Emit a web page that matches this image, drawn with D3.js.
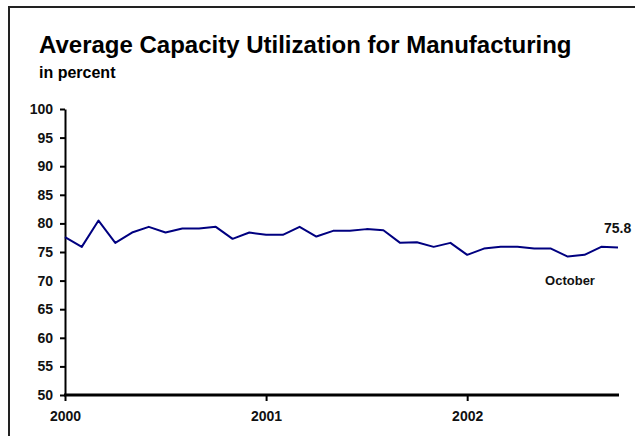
<!DOCTYPE html>
<html>
<head>
<meta charset="utf-8">
<script src="https://cdn.jsdelivr.net/npm/d3@7"></script>
<style>
  html, body { margin: 0; padding: 0; background: #fff; }
  svg { display: block; font-family: "Liberation Sans", Arial, sans-serif; }
</style>
</head>
<body>
<svg id="chart" width="635" height="436"></svg>
<script>
// Monthly capacity utilization, manufacturing, Jan 2000 – Oct 2002 (percent)
const months = d3.range(34); // 0 = Jan 2000
const utilization = [
  77.6, 75.9, 80.5, 76.6, 78.4, 79.4, 78.4, 79.1, 79.1, 79.4, 77.3, 78.4,
  78.0, 78.0, 79.4, 77.7, 78.7, 78.7, 79.0, 78.8, 76.6, 76.7, 75.9, 76.6,
  74.5, 75.6, 75.9, 75.9, 75.6, 75.6, 74.2, 74.5, 75.9, 75.8
];
const yearTicks = [0, 12, 24];
const yearLabels = ["2000", "2001", "2002"];
const yTicks = [50, 55, 60, 65, 70, 75, 80, 85, 90, 95, 100];

const svg = d3.select("#chart");

// Outer frame
svg.append("rect")
  .attr("x", 9).attr("y", 7)
  .attr("width", 640).attr("height", 440)
  .attr("fill", "none")
  .attr("stroke", "#222")
  .attr("stroke-width", 2);

// Titles
svg.append("text")
  .attr("x", 39).attr("y", 53)
  .attr("font-size", 24).attr("font-weight", "bold")
  .attr("fill", "#000")
  .text("Average Capacity Utilization for Manufacturing");
svg.append("text")
  .attr("x", 39).attr("y", 78)
  .attr("font-size", 16).attr("font-weight", "bold")
  .attr("fill", "#000")
  .text("in percent");

const x = d3.scaleLinear().domain([0, 33]).range([65, 618]);
const y = d3.scaleLinear().domain([50, 100]).range([395, 109]);

// Y axis
const yAxis = svg.append("g")
  .attr("transform", `translate(${x(0)},0)`)
  .call(d3.axisLeft(y).tickValues(yTicks).tickSize(5).tickSizeOuter(0).tickPadding(7));
yAxis.select(".domain").attr("stroke", "#000").attr("stroke-width", 2);
yAxis.selectAll(".tick line").attr("stroke", "#000").attr("stroke-width", 2);
yAxis.selectAll(".tick text")
  .attr("font-family", "Liberation Sans, Arial, sans-serif")
  .attr("font-size", 14).attr("font-weight", "bold").attr("fill", "#111");

// X axis
const xAxis = svg.append("g")
  .attr("transform", `translate(0,${y(50)})`)
  .call(d3.axisBottom(x).tickValues(yearTicks)
    .tickFormat((d, i) => yearLabels[i])
    .tickSize(6).tickSizeOuter(0).tickPadding(10));
xAxis.select(".domain")
  .attr("d", `M${x(0) - 1},0H${x(33) + 1}`)
  .attr("stroke", "#000").attr("stroke-width", 3);
xAxis.selectAll(".tick line").attr("stroke", "#000").attr("stroke-width", 2);
xAxis.selectAll(".tick text")
  .attr("font-family", "Liberation Sans, Arial, sans-serif")
  .attr("font-size", 14).attr("font-weight", "bold").attr("fill", "#111");

// Series line
const line = d3.line()
  .x((d, i) => x(months[i]))
  .y(d => y(d));
svg.append("path")
  .datum(utilization)
  .attr("d", line)
  .attr("fill", "none")
  .attr("stroke", "#000080")
  .attr("stroke-width", 2)
  .attr("stroke-linejoin", "round");

// Last value annotation
const last = utilization.length - 1;
svg.append("text")
  .attr("x", x(months[last]) - 14).attr("y", y(utilization[last]) - 14)
  .attr("font-size", 14).attr("font-weight", "bold").attr("fill", "#111")
  .text(utilization[last].toFixed(1));
svg.append("text")
  .attr("x", 570).attr("y", 285)
  .attr("text-anchor", "middle")
  .attr("font-size", 13).attr("font-weight", "bold").attr("fill", "#111")
  .text("October");
</script>
</body>
</html>
